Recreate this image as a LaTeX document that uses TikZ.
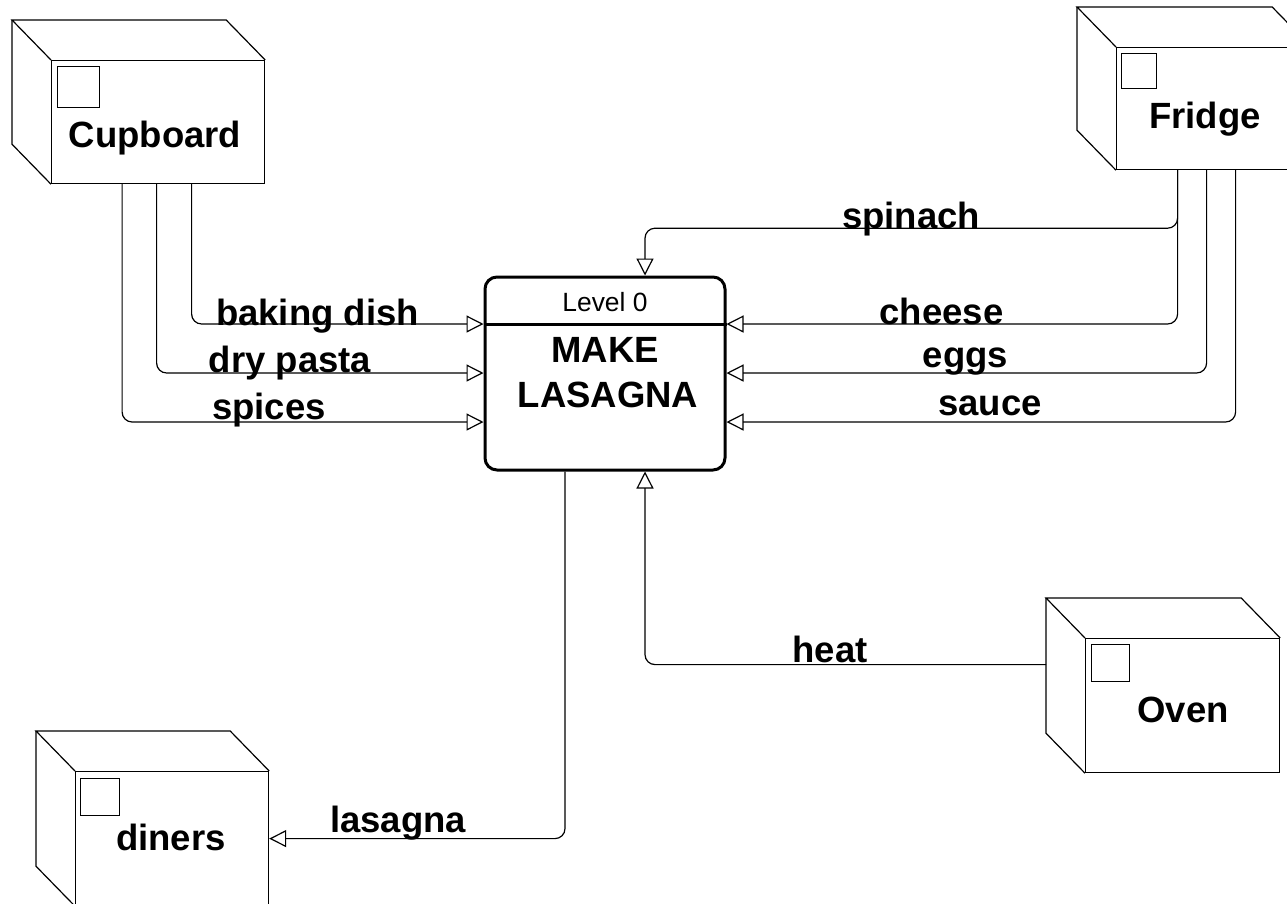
\documentclass[tikz,border=0pt]{standalone}
\usepackage{fontspec}
\setmainfont{Liberation Sans}
\usetikzlibrary{arrows.meta,calc}
\tikzset{
  thin line/.style={line width=1.2pt},
  face/.style={draw, thin line, inner sep=0pt, anchor=north west},
  tag/.style={draw, thin line, inner sep=0pt, anchor=north west},
  bigtxt/.style={font=\fontsize{36.5}{40}\selectfont\bfseries, inner sep=0pt, anchor=base},
  procbox/.style={draw, line width=3pt, rounded corners=12pt, inner sep=0pt},
  flow/.style={thin line, rounded corners=10pt, -{Triangle[open, length=17pt, width=17pt]}},
}
\newcommand\cubeback[1]{%
  \draw[thin line] (#1.north west) -- ++(-39,-40) -- ([xshift=-39pt,yshift=40pt]#1.north east) -- (#1.north east);
  \draw[thin line] ([xshift=-39pt,yshift=40pt]#1.north west) -- ([xshift=-39pt,yshift=40pt]#1.south west) -- (#1.south west);
}
\begin{document}
\begin{tikzpicture}[x=1pt,y=-1pt]
\useasboundingbox (0,0) rectangle (1287,903);
% entities
\node[face, minimum width=213pt, minimum height=123pt] (cup) at (51,60) {};
\cubeback{cup}
\node[tag, minimum width=42pt, minimum height=41pt] (cupsq) at (57,66) {};
\node[bigtxt] (cupt) at (155,147) {Cupboard};

\node[face, minimum width=194pt, minimum height=122pt] (fri) at (1116,47) {};
\cubeback{fri}
\node[tag, minimum width=35pt, minimum height=35pt] (frisq) at (1121,53) {};
\node[bigtxt] (frit) at (1205,128) {Fridge};

\node[face, minimum width=194pt, minimum height=134pt] (ov) at (1085,638) {};
\cubeback{ov}
\node[tag, minimum width=38pt, minimum height=37pt] (ovsq) at (1091,644) {};
\node[bigtxt] (ovt) at (1183,722) {Oven};

\node[face, minimum width=193pt, minimum height=134pt] (din) at (75,771) {};
\cubeback{din}
\node[tag, minimum width=39pt, minimum height=37pt] (dinsq) at (80,778) {};
\node[bigtxt] (dint) at (171,850) {diners};

% process
\node[procbox, minimum width=240pt, minimum height=193pt] (proc) at (605,373.5) {};
\draw[line width=3pt] ([yshift=49.5pt]proc.west) -- ([yshift=49.5pt]proc.east);
\node[inner sep=0pt, anchor=base, font=\fontsize{26.4}{30}\selectfont] (lvl) at (605,311) {Level 0};
\node[bigtxt] (mk1) at (605,362) {MAKE};
\node[bigtxt] (mk2) at (608,407) {LASAGNA};

% flows
\draw[flow] ([xshift=33.5pt]cup.south) |- ([yshift=49.5pt]proc.west);
\draw[flow] ([xshift=-1.5pt]cup.south) |- ([yshift=0.5pt]proc.west);
\draw[flow] ([xshift=-36pt]cup.south) |- ([yshift=-48.5pt]proc.west);

\draw[flow] ([xshift=-36pt]fri.south) -- ++(0,58) -| ([xshift=40pt]proc.north);
\draw[flow] ([xshift=-36pt]fri.south) |- ([yshift=49.5pt]proc.east);
\draw[flow] ([xshift=-7pt]fri.south) |- ([yshift=0.5pt]proc.east);
\draw[flow] ([xshift=22pt]fri.south) |- ([yshift=-48.5pt]proc.east);

\draw[flow] ([xshift=-39pt,yshift=41pt]ov.west) -| ([xshift=40pt]proc.south);
\draw[flow] ([xshift=-40pt]proc.south) |- (din.east);

% labels
\node[bigtxt] (lbd) at (317.5,325) {baking dish};
\node[bigtxt] (ldp) at (290,372.5) {dry pasta};
\node[bigtxt] (lsp) at (269,419) {spices};
\node[bigtxt] (lspn) at (911,228) {spinach};
\node[bigtxt] (lch) at (941.5,324) {cheese};
\node[bigtxt] (leg) at (965.5,367) {eggs};
\node[bigtxt] (lsa) at (990,415) {sauce};
\node[bigtxt] (lht) at (830,662) {heat};
\node[bigtxt] (lls) at (398,832) {lasagna};
\end{tikzpicture}
\end{document}
